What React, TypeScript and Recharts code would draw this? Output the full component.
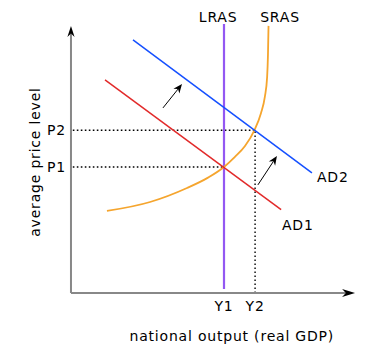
import { LineChart, Line, XAxis, YAxis, ReferenceLine, ReferenceDot } from 'recharts';

const FONT = '"DejaVu Sans", sans-serif';
const TEXT_STYLE = { fontFamily: FONT, fontSize: 14, fill: '#000', letterSpacing: 0.8 };

// plot units: 0-102 across, 0-100 up
const ad1 = [
  { x: 12.5, y: 76.1 },
  { x: 75.4, y: 29.8 },
];
const ad2 = [
  { x: 22.5, y: 90.4 },
  { x: 86.4, y: 42.9 },
];
const sras = [
  { x: 13.2, y: 29.3 },
  { x: 28.6, y: 32.5 },
  { x: 41.8, y: 37.5 },
  { x: 49.3, y: 41.2 },
  { x: 55, y: 45 },
  { x: 58.9, y: 48.6 },
  { x: 62.5, y: 52.5 },
  { x: 65.8, y: 58.0 },
  { x: 68.2, y: 64.2 },
  { x: 69.6, y: 70.1 },
  { x: 70.4, y: 77.1 },
  { x: 70.7, y: 85 },
  { x: 70.9, y: 95.4 },
];
const lrasX = 55;
const lrasSpan = [1.4, 96.1];
const priceLevels = [45, 58.1];
const priceLabels = ['P1', 'P2'];
const outputLevels = [55, 66.1];
const outputLabels = ['Y1', 'Y2'];
const shiftArrows = [
  [{ x: 33.2, y: 66.1 }, { x: 40, y: 74.6 }],
  [{ x: 67.1, y: 38.6 }, { x: 73.9, y: 48.9 }],
];
const curveLabels = [
  { text: 'LRAS', x: 52.9, y: 96.8, anchor: 'middle' },
  { text: 'SRAS', x: 75, y: 96.8, anchor: 'middle' },
  { text: 'AD2', x: 88.2, y: 39.5, anchor: 'start' },
  { text: 'AD1', x: 75.7, y: 22.5, anchor: 'start' },
];
const xMax = 102;
const yMax = 100;

function Arrow(props: any) {
  const { x1, y1, x2, y2, lineColor = '#000', headColor = '#000', strokeWidth = 1.2, len = 9, half = 3.6 } = props;
  const a = Math.atan2(y2 - y1, x2 - x1);
  const c = Math.cos(a);
  const s = Math.sin(a);
  const bx = x2 - len * c;
  const by = y2 - len * s;
  const nx = bx + len * 0.3 * c;
  const ny = by + len * 0.3 * s;
  const pts = [
    [x2, y2],
    [bx - half * s, by + half * c],
    [nx, ny],
    [bx + half * s, by - half * c],
  ]
    .map((p) => p.join(','))
    .join(' ');
  return (
    <g>
      <line x1={x1} y1={y1} x2={nx} y2={ny} stroke={lineColor} strokeWidth={strokeWidth} />
      <polygon points={pts} fill={headColor} />
    </g>
  );
}

export default function App() {
  return (
    <div style={{ position: 'absolute', left: 0, top: 0, background: '#fff' }}>
      <LineChart width={372} height={353} margin={{ top: 13, right: 16.4, bottom: 30, left: 40 }}>
        <XAxis
          type="number"
          dataKey="x"
          domain={[0, xMax]}
          ticks={outputLevels}
          interval={0}
          tickFormatter={(v) => outputLabels[outputLevels.indexOf(v)] ?? ''}
          axisLine={false}
          tickLine={false}
          tickSize={6}
          tickMargin={2}
          height={30}
          tick={TEXT_STYLE}
          label={{
            content: ({ viewBox }: any) => (
              <text x={viewBox.x + viewBox.width / 2 + 19} y={viewBox.y + 47.7} textAnchor="middle" style={TEXT_STYLE}>
                national output (real GDP)
              </text>
            ),
          }}
        />
        <YAxis
          type="number"
          dataKey="y"
          domain={[0, yMax]}
          ticks={priceLevels}
          interval={0}
          tickFormatter={(v) => priceLabels[priceLevels.indexOf(v)] ?? ''}
          axisLine={false}
          tickLine={false}
          tickSize={2}
          tickMargin={2}
          width={30}
          tick={TEXT_STYLE}
          label={{
            content: ({ viewBox }: any) => (
              <text
                transform={`translate(${viewBox.x - 0.5}, ${viewBox.y + viewBox.height / 2 + 9}) rotate(-90)`}
                textAnchor="middle"
                style={TEXT_STYLE}
              >
                average price level
              </text>
            ),
          }}
        />

        {/* guide lines to P1/P2 and Y2 */}
        <ReferenceLine
          segment={[{ x: 1, y: priceLevels[0] }, { x: outputLevels[0], y: priceLevels[0] }]}
          stroke="#000"
          strokeWidth={1.4}
          strokeDasharray="1.6 2.4"
        />
        <ReferenceLine
          segment={[{ x: 1, y: priceLevels[1] }, { x: outputLevels[1], y: priceLevels[1] }]}
          stroke="#000"
          strokeWidth={1.4}
          strokeDasharray="1.6 2.4"
        />
        <ReferenceLine
          segment={[{ x: outputLevels[1], y: 0 }, { x: outputLevels[1], y: priceLevels[1] }]}
          stroke="#000"
          strokeWidth={1.4}
          strokeDasharray="1.6 2.4"
        />

        <ReferenceLine
          segment={[{ x: lrasX, y: lrasSpan[0] }, { x: lrasX, y: lrasSpan[1] }]}
          stroke="#9358f2"
          strokeWidth={2.2}
        />

        <Line data={sras} dataKey="y" type="monotone" stroke="#f5a52e" strokeWidth={1.8} dot={false} isAnimationActive={false} />
        <Line data={ad1} dataKey="y" type="linear" stroke="#e22a2a" strokeWidth={1.5} dot={false} isAnimationActive={false} />
        <Line data={ad2} dataKey="y" type="linear" stroke="#1550ff" strokeWidth={1.5} dot={false} isAnimationActive={false} />

        {shiftArrows.map((seg, i) => (
          <ReferenceLine key={`sa${i}`} segment={seg} shape={(p: any) => <Arrow {...p} len={9} half={3.8} />} />
        ))}

        {/* axes with arrow heads */}
        <ReferenceLine
          segment={[{ x: 0.35, y: 0 }, { x: xMax - 0.2, y: 0 }]}
          shape={(p: any) => <Arrow {...p} lineColor="#888" strokeWidth={2} len={13} half={4} />}
        />
        <ReferenceLine
          segment={[{ x: 0.35, y: 0 }, { x: 0.35, y: 95.4 }]}
          shape={(p: any) => <Arrow {...p} lineColor="#888" strokeWidth={2} len={11} half={3.6} />}
        />

        {curveLabels.map((l) => (
          <ReferenceDot
            key={l.text}
            x={l.x}
            y={l.y}
            r={0}
            shape={(p: any) => (
              <text x={p.cx} y={p.cy} textAnchor={l.anchor} style={TEXT_STYLE}>
                {l.text}
              </text>
            )}
          />
        ))}
      </LineChart>
    </div>
  );
}
